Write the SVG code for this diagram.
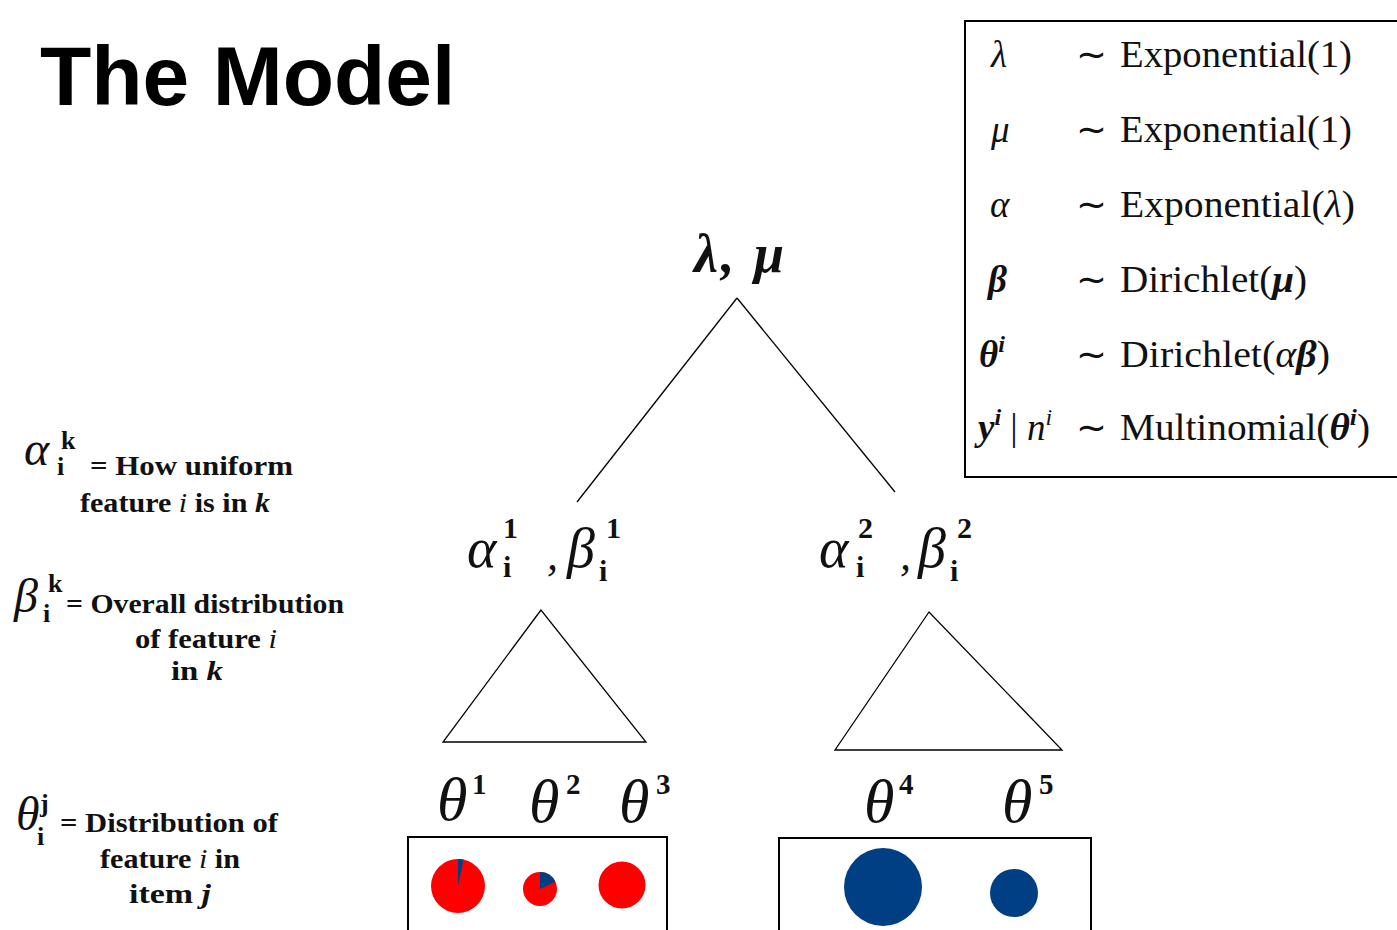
<svg xmlns="http://www.w3.org/2000/svg" width="1397" height="930" viewBox="0 0 1397 930">
<style>
.title{font-family:"Liberation Sans",Arial,sans-serif;font-weight:bold;font-size:84px;fill:#000}
.lg{font-family:"Liberation Serif","Times New Roman",serif;font-size:37px;fill:#111}
.it{font-style:italic}
.bi{font-style:italic;font-weight:bold}
.math{font-family:"Liberation Serif","Times New Roman",serif;font-style:italic;fill:#111}
.sup{font-family:"Liberation Serif","Times New Roman",serif;font-weight:bold;font-style:normal;fill:#111}
.ann{font-family:"Liberation Serif","Times New Roman",serif;font-weight:bold;font-size:27px;fill:#111}
.ln{stroke:#000;stroke-width:1.3;fill:none}
.box{stroke:#000;stroke-width:2;fill:none}
.red{fill:#ff0000}
.blue{fill:#003f84}
</style>
<rect width="1397" height="930" fill="#ffffff"/>

<g id="title"><text class="title" x="40" y="105">The Model</text></g>

<g id="legend">
<rect class="box" x="965" y="21" width="440" height="456"/>
<text class="lg it" x="991" y="67">λ</text>
<text class="lg" x="1076" y="67">∼</text>
<text class="lg" x="1120" y="67" textLength="232" lengthAdjust="spacingAndGlyphs">Exponential(1)</text>
<text class="lg it" x="991" y="142">μ</text>
<text class="lg" x="1076" y="142">∼</text>
<text class="lg" x="1120" y="142" textLength="232" lengthAdjust="spacingAndGlyphs">Exponential(1)</text>
<text class="lg it" x="990" y="217">α</text>
<text class="lg" x="1076" y="217">∼</text>
<text class="lg" x="1120" y="217" textLength="235" lengthAdjust="spacingAndGlyphs">Exponential(<tspan class="it">λ</tspan>)</text>
<text class="lg bi" x="988" y="292">β</text>
<text class="lg" x="1076" y="292">∼</text>
<text class="lg" x="1120" y="292" textLength="187" lengthAdjust="spacingAndGlyphs">Dirichlet(<tspan class="bi">μ</tspan>)</text>
<text class="lg bi" x="979" y="367">θ<tspan font-size="24" dy="-15">i</tspan></text>
<text class="lg" x="1076" y="367">∼</text>
<text class="lg" x="1120" y="367" textLength="210" lengthAdjust="spacingAndGlyphs">Dirichlet(<tspan class="it">α</tspan><tspan class="bi">β</tspan>)</text>
<text class="lg" x="978" y="440"><tspan class="bi">y</tspan><tspan class="bi" font-size="24" dy="-15">i</tspan><tspan dy="15"> | </tspan><tspan class="it">n</tspan><tspan class="it" font-size="24" dy="-15">i</tspan></text>
<text class="lg" x="1076" y="440">∼</text>
<text class="lg" x="1120" y="440" textLength="250" lengthAdjust="spacingAndGlyphs">Multinomial(<tspan class="bi">θ</tspan><tspan class="bi" font-size="24" dy="-15">i</tspan><tspan dy="15">)</tspan></text>
</g>

<g id="connectors">
<line class="ln" x1="737" y1="298" x2="577" y2="502"/>
<line class="ln" x1="737" y1="298" x2="895" y2="492"/>
<polygon class="ln" points="541,610 443,742 646,742"/>
<polygon class="ln" points="929,612 835,750 1062,750"/>
</g>

<g id="root">
<text class="math" x="694" y="272" font-size="54" font-weight="bold" textLength="90" lengthAdjust="spacing">λ, μ</text>
</g>

<g id="node-k1">
<text class="math" x="467" y="567" font-size="56">α</text>
<text class="sup" x="503" y="538" font-size="30">1</text>
<text class="sup" x="503" y="577" font-size="30">i</text>
<text class="math" x="547" y="570" font-size="44">,</text>
<text class="math" x="567" y="567" font-size="56">β</text>
<text class="sup" x="606" y="538" font-size="30">1</text>
<text class="sup" x="599" y="581" font-size="30">i</text>
</g>

<g id="node-k2">
<text class="math" x="819" y="567" font-size="56">α</text>
<text class="sup" x="858" y="538" font-size="30">2</text>
<text class="sup" x="856" y="577" font-size="30">i</text>
<text class="math" x="900" y="570" font-size="44">,</text>
<text class="math" x="918" y="567" font-size="56">β</text>
<text class="sup" x="957" y="538" font-size="30">2</text>
<text class="sup" x="950" y="581" font-size="30">i</text>
</g>

<g id="items">
<text class="math" x="437" y="820" font-size="62">θ</text>
<text class="sup" x="472" y="794" font-size="29">1</text>
<text class="math" x="529" y="822" font-size="62">θ</text>
<text class="sup" x="566" y="794" font-size="29">2</text>
<text class="math" x="619" y="822" font-size="62">θ</text>
<text class="sup" x="656" y="794" font-size="29">3</text>
<text class="math" x="864" y="822" font-size="62">θ</text>
<text class="sup" x="899" y="794" font-size="29">4</text>
<text class="math" x="1002" y="822" font-size="62">θ</text>
<text class="sup" x="1039" y="794" font-size="29">5</text>
</g>

<g id="box-k1">
<rect class="box" x="408" y="837" width="259" height="110"/>
<circle class="red" cx="458" cy="886" r="27"/>
<path class="blue" d="M458,886 L458,859 A27,27 0 0 1 463.6,859.6 Z"/>
<circle class="red" cx="540" cy="889" r="17"/>
<path class="blue" d="M540,889 L540,872 A17,17 0 0 1 555.4,881.8 Z"/>
<circle class="red" cx="622" cy="885" r="23.5"/>
</g>

<g id="box-k2">
<rect class="box" x="779" y="838" width="312" height="110"/>
<circle class="blue" cx="883" cy="887" r="39"/>
<circle class="blue" cx="1014" cy="893" r="24"/>
</g>

<g id="annotation-alpha">
<text class="math" x="24" y="465" font-size="48">α</text>
<text class="sup" x="61" y="449" font-size="26">k</text>
<text class="sup" x="57" y="475" font-size="26">i</text>
<text class="ann" x="90" y="475" textLength="203" lengthAdjust="spacingAndGlyphs">= How uniform</text>
<text class="ann" x="80" y="512" textLength="190" lengthAdjust="spacingAndGlyphs">feature <tspan class="it" font-weight="normal">i</tspan> is  in <tspan class="it">k</tspan></text>
</g>

<g id="annotation-beta">
<text class="math" x="14" y="612" font-size="48">β</text>
<text class="sup" x="48" y="592" font-size="26">k</text>
<text class="sup" x="43" y="622" font-size="26">i</text>
<text class="ann" x="66" y="613" textLength="278" lengthAdjust="spacingAndGlyphs">= Overall distribution</text>
<text class="ann" x="135" y="648" textLength="142" lengthAdjust="spacingAndGlyphs">of feature <tspan class="it" font-weight="normal">i</tspan></text>
<text class="ann" x="171" y="680" textLength="52" lengthAdjust="spacingAndGlyphs">in <tspan class="it">k</tspan></text>
</g>

<g id="annotation-theta">
<text class="math" x="16" y="830" font-size="48">θ</text>
<text class="sup" x="40" y="812" font-size="26">j</text>
<text class="sup" x="37" y="845" font-size="26">i</text>
<text class="ann" x="60" y="832" textLength="218" lengthAdjust="spacingAndGlyphs">= Distribution of</text>
<text class="ann" x="100" y="868" textLength="140" lengthAdjust="spacingAndGlyphs">feature <tspan class="it" font-weight="normal">i</tspan> in</text>
<text class="ann" x="129" y="903" textLength="82" lengthAdjust="spacingAndGlyphs">item <tspan class="it">j</tspan></text>
</g>
</svg>
